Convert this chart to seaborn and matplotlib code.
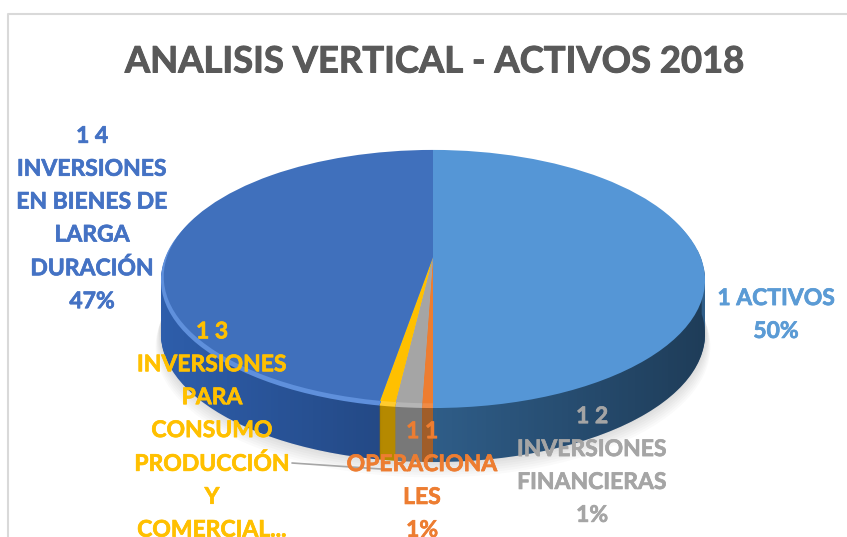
import numpy as np
import matplotlib
matplotlib.use("Agg")
import matplotlib.pyplot as plt
import matplotlib.patheffects as pe
import seaborn as sns
from matplotlib.path import Path
from matplotlib.transforms import Transform

# Datos del grafico, en el orden de las agujas del reloj desde arriba
categorias = ["1 ACTIVOS", "1 1\nOPERACIONA\nLES", "1 2\nINVERSIONES\nFINANCIERAS",
              "1 3\nINVERSIONES\nPARA\nCONSUMO\nPRODUCCIÓN\nY\nCOMERCIAL...",
              "1 4\nINVERSIONES\nEN BIENES DE\nLARGA\nDURACIÓN"]
valores = [50.0, 0.55, 1.35, 0.8, 47.3]
# el 1% de la categoria 1 3 queda fuera del cuadro en el original
porcentajes = ["50%", "1%", "1%", None, "47%"]
titulo = "ANALISIS VERTICAL - ACTIVOS 2018"

colores_sup = ["#5596D6", "#ED7D31", "#A5A5A5", "#FFC000", "#4070BC"]
colores_borde = ["#5596D6", "#F08B45", "#B5B5B5", "#FFCB2E", "#5F90DC"]
colores_lado = ["#2F5D88", "#A8622C", "#7E7E7E", "#BE9000", "#2E5EAB"]
colores_texto = ["#5B9BD5", "#ED7D31", "#A5A5A5", "#FFC000", "#4472C4"]
pos_etiquetas = [(776, 315), (422, 481), (592, 466), (212, 431), (92, 219)]

# Perspectiva del disco, en pixeles
CX, CY = 433, 260
A, B, K = 124.9, 268.7, 0.1563
PROF = 54


class Inclinado(Transform):
    input_dims = output_dims = 2

    def __init__(self, dy=0):
        super().__init__()
        self.dy = dy

    def transform_non_affine(self, pts):
        pts = np.asarray(pts, dtype=float)
        w = 1 + K * pts[:, 1]
        return np.column_stack((CX + B * pts[:, 0] / w, CY + self.dy - A * pts[:, 1] / w))


def disco(ax, colores, dy=0, radio=1.0, zorder=1, alpha=None):
    wedges, _ = ax.pie(valores, colors=colores, startangle=90, counterclock=False,
                       radius=radio, wedgeprops={"linewidth": 0, "alpha": alpha})
    for w in wedges:
        w.set_transform(Inclinado(dy) + ax.transData)
        w.set_zorder(zorder)


sns.set_theme(style="white")
plt.rcParams["font.family"] = ["Lato", "DejaVu Sans"]

fig = plt.figure(figsize=(8.47, 5.37), dpi=100)
ax = fig.add_axes([0, 0, 1, 1])

# Sombra suave debajo del disco
for d in range(70, PROF, -2):
    disco(ax, ["#000000"] * 5, dy=d - 4, radio=1.0 + (d - PROF) * 0.0012, zorder=0.5, alpha=0.018)

# Lateral
for d in range(PROF, 0, -1):
    disco(ax, colores_lado, dy=d)

# Degradado del lateral
xs = np.linspace(160, 706, 300)
alfa = np.interp(xs, [160, 380, 381, 433, 434, 706], [0, 0.22, 0.05, 0.05, 0, 0.35])
grad = np.zeros((1, xs.size, 4))
grad[0, :, 3] = alfa
im = ax.imshow(grad, extent=(160, 706, 480, 250), aspect="auto", zorder=2)
t = np.radians(np.linspace(0, 360, 181))
sup = Inclinado(0).transform_non_affine(np.column_stack((np.cos(t[:91]), np.sin(t[:91]))))
inf = Inclinado(PROF).transform_non_affine(np.column_stack((np.cos(t[90:]), np.sin(t[90:]))))
im.set_clip_path(Path(np.vstack((sup, inf, sup[:1])), closed=True), ax.transData)

# Cara superior con su canto claro
disco(ax, colores_borde, zorder=2.2)
disco(ax, colores_sup, dy=-3, radio=0.99, zorder=2.5)

# Linea guia y marco
ax.plot([292, 381], [463, 469], color="#A6A6A6", lw=1.2, zorder=2.8)
ax.plot([8, 8, 847], [537, 14, 14], color="#D9D9D9", lw=1.5, zorder=2.8)

ax.set_xlim(0, 847)
ax.set_ylim(537, 0)
ax.set_aspect("auto")
ax.axis("off")

txt = ax.text(434, 62, titulo, ha="center", va="center", fontsize=26.2, fontweight="bold", color="#595959")
txt.set_path_effects([pe.withStroke(linewidth=0.7, foreground="#595959")])

for cat, pct, col, (x, y) in zip(categorias, porcentajes, colores_texto, pos_etiquetas):
    etiqueta = cat if pct is None else f"{cat}\n{pct}"
    txt = ax.text(x, y, etiqueta, ha="center", va="center", fontsize=16.5,
                  fontweight="bold", color=col, linespacing=1.7)
    txt.set_path_effects([pe.withStroke(linewidth=0.5, foreground=col)])

fig.savefig("out.png", dpi=100)
